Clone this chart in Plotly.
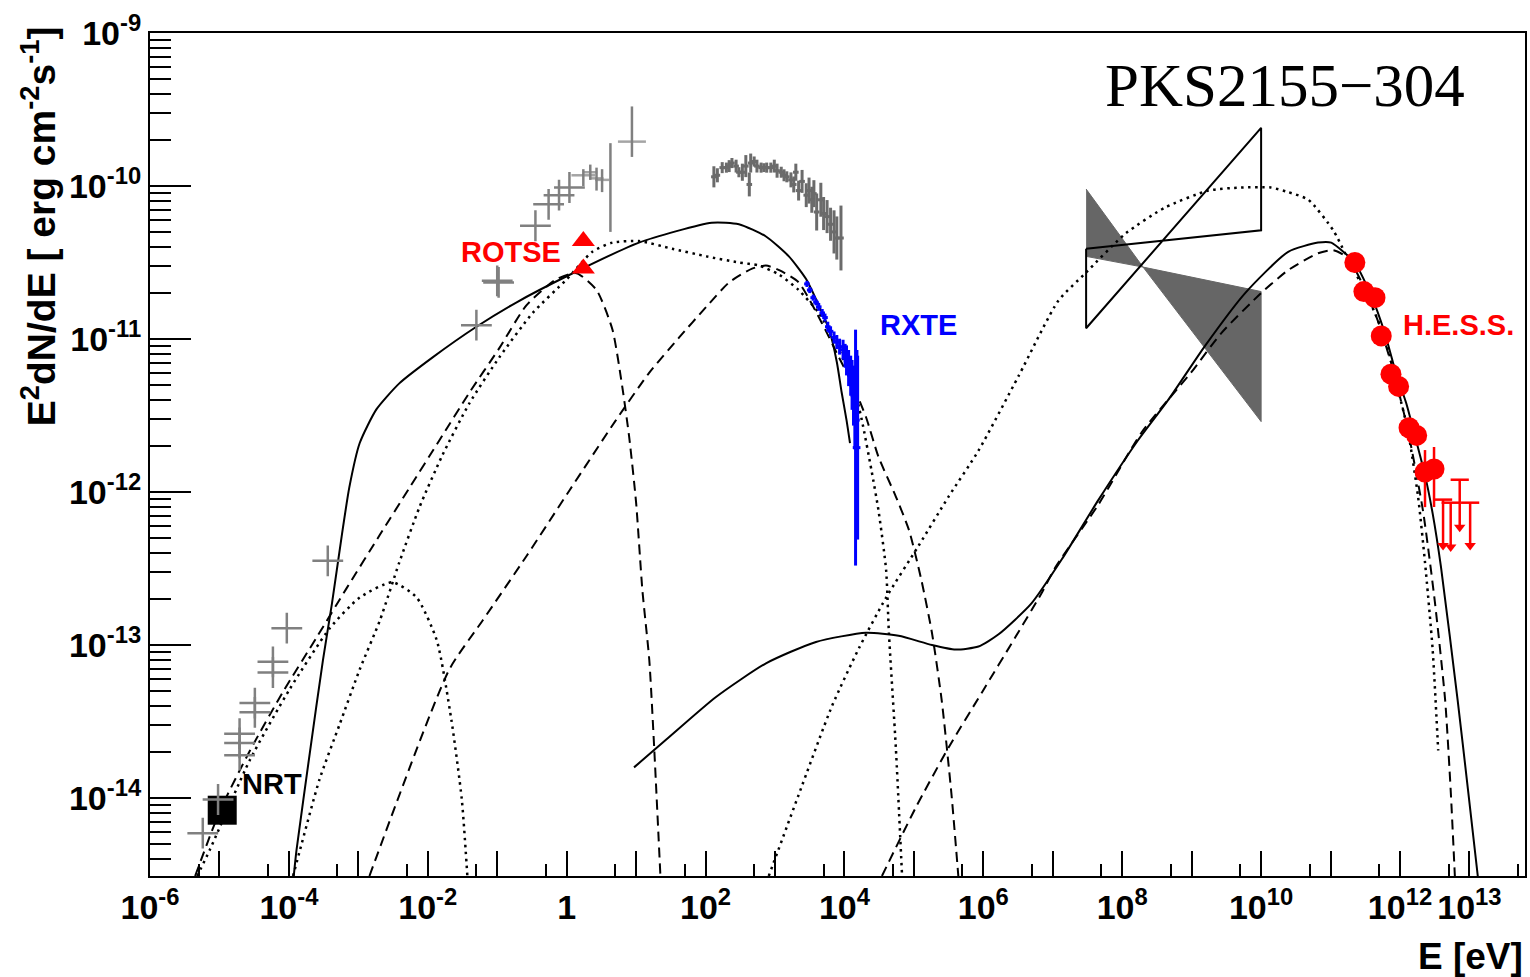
import plotly.graph_objects as go

# ---------------- model curves: log10 E [eV], log10 E^2 dN/dE [erg cm^-2 s^-1] ----------------
sync_total_logE = [-3.93, -3.89, -3.70, -3.51, -3.38, -3.24, -3.13, -2.98, -2.74, -2.41, -1.93, -1.30,
                   -0.72, 0.00, 1.04, 2.09, 2.48, 2.87, 3.20, 3.45, 3.63, 3.78, 3.89, 3.96, 4.03, 4.08]
sync_total_logF = [-14.51, -14.34, -13.71, -13.10, -12.73, -12.29, -11.97, -11.68, -11.46, -11.29, -11.12, -10.92,
                   -10.76, -10.59, -10.37, -10.24, -10.25, -10.33, -10.46, -10.61, -10.78, -10.94, -11.15, -11.35,
                   -11.53, -11.68]

ic_total_logE = [0.97, 1.43, 2.15, 2.87, 3.59, 4.31, 4.78, 5.26, 5.60, 5.93, 6.22, 6.69, 7.13, 7.66, 8.23, 8.66,
                 9.20, 9.77, 10.39, 10.82, 11.01, 11.21, 11.35, 11.58, 11.78, 11.94, 12.09, 12.23, 12.36, 12.47,
                 12.59, 12.83, 12.98, 13.12]
ic_total_logF = [-13.80, -13.62, -13.34, -13.12, -12.98, -12.92, -12.94, -13.00, -13.03, -13.01, -12.93, -12.73,
                 -12.44, -12.05, -11.66, -11.40, -11.04, -10.70, -10.43, -10.37, -10.37, -10.44, -10.50, -10.71,
                 -10.96, -11.22, -11.42, -11.66, -11.89, -12.14, -12.49, -13.36, -13.95, -14.51]

sync1_logE = [-5.35, -4.99, -4.56, -4.09, -3.60, -3.17, -2.69, -2.26, -1.83, -1.40, -0.97, -0.58, -0.15, 0.14,
              0.43, 0.66, 0.80, 0.90, 1.00, 1.09, 1.19, 1.26, 1.35]
sync1_logF = [-14.51, -14.08, -13.69, -13.31, -12.95, -12.63, -12.28, -11.97, -11.66, -11.35, -11.06, -10.78,
              -10.61, -10.57, -10.68, -10.94, -11.31, -11.64, -12.07, -12.64, -13.10, -13.67, -14.51]

sync2_logE = [-2.84, -1.69, -1.21, -0.58, 0.04, 0.71, 1.19, 1.62, 2.01, 2.34, 2.67, 2.87, 3.06, 3.34, 3.68, 3.92,
              4.11, 4.31, 4.49, 4.74, 4.93, 5.11, 5.26, 5.40, 5.54, 5.64]
sync2_logF = [-14.51, -13.16, -12.84, -12.42, -11.99, -11.53, -11.22, -10.99, -10.79, -10.63, -10.54, -10.52,
              -10.55, -10.63, -10.90, -11.12, -11.29, -11.51, -11.77, -12.03, -12.25, -12.58, -12.92, -13.36,
              -13.97, -14.51]

ssc_logE = [4.54, 5.03, 5.50, 5.98, 6.46, 6.84, 7.04, 7.66, 8.28, 8.99, 9.43, 10.00, 10.39, 10.82, 11.04, 11.25,
            11.47, 11.68, 11.90, 12.11, 12.33, 12.50, 12.65, 12.73, 12.79]
ssc_logF = [-14.51, -14.06, -13.67, -13.31, -12.95, -12.66, -12.49, -12.08, -11.61, -11.22, -10.96, -10.70,
            -10.55, -10.44, -10.42, -10.47, -10.65, -10.88, -11.20, -11.59, -12.12, -12.71, -13.36, -13.95, -14.51]

bump_logE = [-5.32, -5.14, -4.56, -3.99, -3.41, -2.98, -2.51, -2.16, -1.87, -1.66, -1.51, -1.43]
bump_logF = [-14.51, -14.34, -13.75, -13.29, -12.89, -12.69, -12.59, -12.69, -12.97, -13.49, -14.01, -14.51]

sync3_logE = [-3.94, -3.84, -3.56, -3.27, -2.98, -2.69, -2.41, -2.12, -1.79, -1.40, -0.97, -0.49, 0.00, 0.37,
              0.66, 1.04, 1.52, 2.01, 2.48, 2.77, 3.06, 3.34, 3.63, 3.88, 4.11, 4.25, 4.39, 4.49, 4.60, 4.64,
              4.74, 4.83]
sync3_logF = [-14.51, -14.34, -13.88, -13.52, -13.16, -12.84, -12.46, -12.10, -11.76, -11.42, -11.12, -10.83,
              -10.61, -10.43, -10.37, -10.36, -10.41, -10.46, -10.50, -10.52, -10.58, -10.68, -10.83, -11.03,
              -11.27, -11.53, -11.86, -12.12, -12.51, -12.92, -13.67, -14.51]

ec_logE = [2.91, 3.34, 3.82, 4.21, 4.60, 5.07, 5.50, 5.93, 6.51, 7.08, 7.47, 8.05, 8.62, 9.24, 9.71, 10.14,
           10.39, 10.68, 11.04, 11.21, 11.54, 11.78, 11.97, 12.11, 12.26, 12.36, 12.47, 12.55]
ec_logF = [-14.51, -13.98, -13.40, -13.02, -12.69, -12.35, -12.03, -11.73, -11.24, -10.75, -10.57, -10.31,
           -10.14, -10.03, -10.01, -10.01, -10.04, -10.09, -10.29, -10.44, -10.73, -10.99, -11.33, -11.59,
           -12.03, -12.46, -13.03, -13.69]

# ---------------- archival data (grey) ----------------
arch_logE = [-5.24, -5.02, -4.71, -4.71, -4.71, -4.49, -4.49, -4.23, -4.23, -4.03, -3.44, -1.30, -1.00, -0.98,
             -0.45, -0.26, -0.11, 0.04]
arch_logF = [-14.23, -14.01, -13.58, -13.64, -13.72, -13.38, -13.44, -13.11, -13.18, -12.89, -12.45, -10.91,
             -10.62, -10.63, -10.26, -10.12, -10.06, -10.01]

uv_logE = [0.24, 0.34, 0.43, 0.51, 0.63, 0.94]
uv_logF = [-9.93, -9.91, -9.95, -9.96, -10.01, -9.71]
uv_up = [0.04, 0.05, 0.07, 0.07, 0.29, 0.23]
uv_dn = [0.07, 0.05, 0.08, 0.08, 0.29, 0.10]

xray_logE = [2.12, 2.17, 2.24, 2.30, 2.34, 2.38, 2.44, 2.48, 2.53, 2.58, 2.63, 2.65, 2.70, 2.74, 2.80, 2.84, 2.88,
             2.94, 2.99, 3.03, 3.09, 3.13, 3.17, 3.23, 3.27, 3.30, 3.34, 3.39, 3.45, 3.49, 3.53, 3.56, 3.60, 3.66,
             3.70, 3.75, 3.80, 3.85, 3.89, 3.95]
xray_logF = [-9.94, -9.93, -9.88, -9.88, -9.87, -9.85, -9.87, -9.91, -9.91, -9.87, -9.99, -9.85, -9.84, -9.87,
             -9.88, -9.88, -9.88, -9.88, -9.87, -9.90, -9.91, -9.93, -9.94, -9.96, -9.99, -9.91, -10.03, -9.97,
             -10.06, -10.03, -10.09, -10.05, -10.17, -10.09, -10.18, -10.20, -10.25, -10.30, -10.34, -10.34]
xray_err = [0.069, 0.046, 0.036, 0.033, 0.039, 0.033, 0.042, 0.033, 0.056, 0.072, 0.078, 0.062, 0.033, 0.042,
            0.033, 0.029, 0.033, 0.033, 0.042, 0.046, 0.036, 0.039, 0.036, 0.049, 0.052, 0.056, 0.065, 0.075,
            0.078, 0.085, 0.085, 0.088, 0.121, 0.111, 0.108, 0.108, 0.108, 0.141, 0.141, 0.212]

# ---------------- simultaneous data ----------------
rxte_logE = [3.46, 3.50, 3.55, 3.59, 3.63, 3.68, 3.72, 3.76, 3.80, 3.85, 3.89, 3.93, 3.98, 4.01, 4.03, 4.06, 4.09,
             4.11, 4.13, 4.15, 4.16, 4.18, 4.19]
rxte_logF = [-10.64, -10.68, -10.73, -10.76, -10.79, -10.83, -10.86, -10.92, -10.95, -10.99, -11.02, -11.05,
             -11.07, -11.11, -11.14, -11.19, -11.24, -11.30, -11.37, -11.46, -11.71, -11.53, -11.71]
rxte_err = [0.02, 0.02, 0.02, 0.02, 0.026, 0.026, 0.026, 0.033, 0.033, 0.039, 0.046, 0.052, 0.065, 0.078, 0.098,
            0.118, 0.131, 0.163, 0.196, 0.261, 0.771, 0.458, 0.601]

rotse_logE = [0.24, 0.24]
rotse_logF = [-10.36, -10.54]

nrt_logE = [-4.96]
nrt_logF = [-14.08]

hess_logE = [11.35, 11.48, 11.64, 11.73, 11.87, 11.98, 12.13, 12.24, 12.36, 12.49]
hess_logF = [-10.50, -10.69, -10.73, -10.98, -11.23, -11.31, -11.58, -11.63, -11.87, -11.85]
hess_up = [0, 0, 0, 0, 0, 0, 0, 0, 0.144, 0.144]
hess_dn = [0, 0, 0, 0, 0, 0, 0, 0, 0.229, 0.248]

hess_ul_logE = [12.62, 12.73, 12.86, 13.01]
hess_ul_top = [-12.05, -12.07, -11.92, -12.07]
hess_ul_tip = [-12.35, -12.36, -12.23, -12.35]

# GeV butterflies
egret_logE = [7.48, 8.30, 10.00, 10.00, 8.30, 7.48]
egret_logF = [-10.02, -10.53, -11.54, -10.69, -10.53, -10.46]
glast_logE = [7.48, 10.00, 10.00, 7.48, 7.48]
glast_logF = [-10.41, -10.29, -9.62, -10.93, -10.41]

# axis ticks
x_label_exp = [-6, -4, -2, 0, 2, 4, 6, 8, 10, 12, 13]
x_label_text = ["10<sup>-6</sup>", "10<sup>-4</sup>", "10<sup>-2</sup>", "1", "10<sup>2</sup>", "10<sup>4</sup>",
                "10<sup>6</sup>", "10<sup>8</sup>", "10<sup>10</sup>", "10<sup>12</sup>", "10<sup>13</sup>"]
x_plain_exp = [-5, -3, -1, 1, 3, 5, 7, 9, 11]
y_major_exp = list(range(-14, -8))


def lin(v):
    return [10 ** a for a in v]


def err_plus(c, h):
    return [10 ** (a + b) - 10 ** a for a, b in zip(c, h)]


def err_minus(c, h):
    return [10 ** a - 10 ** (a - b) for a, b in zip(c, h)]


GREY = "#808080"
DARKGREY = "#6b6b6b"
RED = "#ff0000"
BLUE = "#0000ff"
DOT = "2.5px,4.5px"
DASH = "10px,6px"
SANS = "Liberation Sans, Arial, sans-serif"

fig = go.Figure()

# grey filled butterfly
fig.add_trace(go.Scatter(x=lin(egret_logE), y=lin(egret_logF), mode="lines", fill="toself",
                         fillcolor="#666666", line=dict(color="#666666", width=1), hoverinfo="skip"))


def curve(lx, ly, dash, width=2):
    fig.add_trace(go.Scatter(x=lin(lx), y=lin(ly), mode="lines",
                             line=dict(color="black", width=width, dash=dash, shape="spline", smoothing=0.6),
                             hoverinfo="skip"))


curve(bump_logE, bump_logF, DOT, 2.5)
curve(sync3_logE, sync3_logF, DOT, 2.5)
curve(ec_logE, ec_logF, DOT, 2.5)
curve(sync1_logE, sync1_logF, DASH)
curve(sync2_logE, sync2_logF, DASH)
curve(ssc_logE, ssc_logF, DASH)
curve(sync_total_logE, sync_total_logF, "solid")
curve(ic_total_logE, ic_total_logF, "solid")

# open butterfly
fig.add_trace(go.Scatter(x=lin(glast_logE), y=lin(glast_logF), mode="lines",
                         line=dict(color="black", width=2), hoverinfo="skip"))

# NRT radio
fig.add_trace(go.Scatter(x=lin(nrt_logE), y=lin(nrt_logF), mode="markers",
                         marker=dict(symbol="square", size=29, color="black")))

# archival radio-to-UV crosses
fig.add_trace(go.Scatter(x=lin(arch_logE), y=lin(arch_logF), mode="markers",
                         marker=dict(symbol="cross-thin", size=22, line=dict(color=GREY, width=2.5))))
fig.add_trace(go.Scatter(x=lin(uv_logE), y=lin(uv_logF), mode="markers",
                         marker=dict(symbol="line-ew", size=[17, 10, 10, 10, 0, 20],
                                     line=dict(color=GREY, width=2.5)),
                         error_y=dict(type="data", symmetric=False, array=err_plus(uv_logF, uv_up),
                                      arrayminus=err_minus(uv_logF, uv_dn), color=GREY, thickness=2.5, width=0)))

# archival X-ray
fig.add_trace(go.Scatter(x=lin(xray_logE), y=lin(xray_logF), mode="markers",
                         marker=dict(symbol="line-ew", size=4, line=dict(color=DARKGREY, width=3)),
                         error_y=dict(type="data", symmetric=False, array=err_plus(xray_logF, xray_err),
                                      arrayminus=err_minus(xray_logF, xray_err), color=DARKGREY,
                                      thickness=3, width=0)))

# RXTE
fig.add_trace(go.Scatter(x=lin(rxte_logE), y=lin(rxte_logF), mode="markers",
                         marker=dict(symbol="line-ew", size=4, line=dict(color=BLUE, width=3)),
                         error_y=dict(type="data", symmetric=False, array=err_plus(rxte_logF, rxte_err),
                                      arrayminus=err_minus(rxte_logF, rxte_err), color=BLUE,
                                      thickness=3, width=0)))

# ROTSE
fig.add_trace(go.Scatter(x=lin(rotse_logE), y=lin(rotse_logF), mode="markers",
                         marker=dict(symbol="triangle-up", size=20, color=RED)))

# H.E.S.S. spectrum
fig.add_trace(go.Scatter(x=lin(hess_logE), y=lin(hess_logF), mode="markers",
                         marker=dict(symbol="circle", size=21, color=RED),
                         error_y=dict(type="data", symmetric=False, array=err_plus(hess_logF, hess_up),
                                      arrayminus=err_minus(hess_logF, hess_dn), color=RED,
                                      thickness=2.5, width=0)))

# H.E.S.S. upper limits
ul_x, ul_y = [], []
for e, t, b in zip(hess_ul_logE, hess_ul_top, hess_ul_tip):
    ul_x += [10 ** e, 10 ** e, None]
    ul_y += [10 ** t, 10 ** b, None]
fig.add_trace(go.Scatter(x=ul_x, y=ul_y, mode="lines", line=dict(color=RED, width=2.5), hoverinfo="skip"))
fig.add_trace(go.Scatter(x=lin(hess_ul_logE), y=lin(hess_ul_top), mode="markers",
                         marker=dict(symbol="line-ew", size=13, line=dict(color=RED, width=2.5))))
fig.add_trace(go.Scatter(x=lin(hess_ul_logE), y=lin(hess_ul_tip), mode="markers",
                         marker=dict(symbol="triangle-down", size=10, color=RED)))

# unlabelled decade ticks live on an overlaid axis sharing the bottom edge
fig.add_trace(go.Scatter(x=[10 ** -6], y=[None], xaxis="x2", mode="markers", hoverinfo="skip",
                         marker=dict(size=0)))


def label(text, lx, ly, color, anchor, size=29, family=SANS):
    fig.add_annotation(x=lx, y=ly, xref="x", yref="y", text=text, showarrow=False,
                       xanchor=anchor, yanchor="middle", font=dict(family=family, size=size, color=color))


label("<b>ROTSE</b>", -0.06, -10.43, RED, "right")
label("<b>RXTE</b>", 4.49, -10.91, BLUE, "left")
label("<b>H.E.S.S.</b>", 12.01, -10.91, RED, "left")
label("<b>NRT</b>", -4.71, -13.91, "black", "left")
label("PKS2155\u2212304", 7.73, -9.34, "black", "left", size=61,
      family="Liberation Serif, DejaVu Serif, serif")

# axis titles
fig.add_annotation(xref="paper", yref="paper", x=1.0, y=-0.095, xanchor="right", yanchor="middle",
                   text="<b>E [eV]</b>", showarrow=False, font=dict(family=SANS, size=37, color="black"))
fig.add_annotation(xref="paper", yref="paper", x=-0.081, y=1.01, xanchor="center", yanchor="top",
                   textangle=-90, text="<b>E<sup>2</sup>dN/dE [ erg cm<sup>-2</sup>s<sup>-1</sup>]</b>",
                   showarrow=False, font=dict(family=SANS, size=39, color="black"))

fig.update_layout(
    width=1530, height=977,
    margin=dict(l=150, r=3, t=33, b=101),
    paper_bgcolor="white", plot_bgcolor="white",
    showlegend=False,
    font=dict(family=SANS, color="black"),
    xaxis=dict(
        type="log", range=[-6, 13.8], showgrid=False, zeroline=False,
        showline=True, linecolor="black", linewidth=2, mirror=True,
        ticks="inside", ticklen=25, tickwidth=2, tickcolor="black",
        tickmode="array", tickvals=[10 ** k for k in x_label_exp],
        ticktext=["<b>" + t + "</b>" for t in x_label_text],
        tickfont=dict(family=SANS, size=34, color="black"),
        minor=dict(tickmode="array", tickvals=[5 * 10 ** k for k in range(-6, 14)], ticks="inside",
                   ticklen=12, tickwidth=2, tickcolor="black"),
    ),
    xaxis2=dict(
        type="log", range=[-6, 13.8], overlaying="x", anchor="y", side="bottom",
        showgrid=False, zeroline=False, showline=False, showticklabels=False,
        ticks="inside", ticklen=25, tickwidth=2, tickcolor="black",
        tickmode="array", tickvals=[10 ** k for k in x_plain_exp],
    ),
    yaxis=dict(
        type="log", range=[-14.51, -9], showgrid=False, zeroline=False,
        showline=True, linecolor="black", linewidth=2, mirror=True,
        ticks="inside", ticklen=41, tickwidth=2, tickcolor="black",
        tickmode="array", tickvals=[10 ** k for k in y_major_exp],
        ticktext=["<b>10<sup>%d</sup></b>" % k for k in y_major_exp],
        tickfont=dict(family=SANS, size=34, color="black"),
        minor=dict(tickmode="array", tickvals=[m * 10 ** k for k in range(-15, -9) for m in range(2, 10)],
                   ticks="inside", ticklen=21, tickwidth=2, tickcolor="black"),
    ),
)

fig.write_html("out.html")
